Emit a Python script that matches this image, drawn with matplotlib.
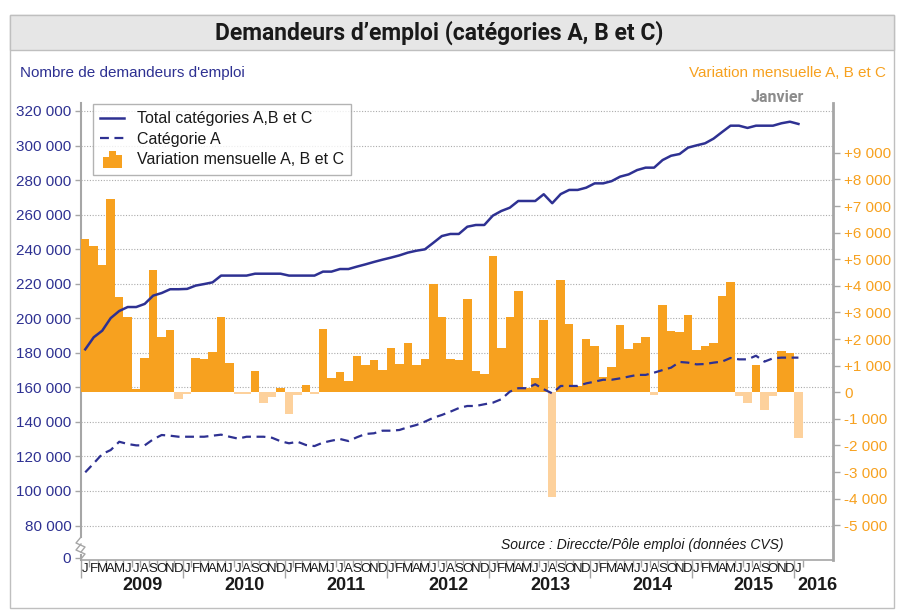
import matplotlib
matplotlib.use('Agg')
import matplotlib.pyplot as plt
import matplotlib.transforms as mtransforms
from matplotlib.patches import Rectangle
from matplotlib.lines import Line2D
from matplotlib.legend_handler import HandlerBase
import numpy as np

plt.rcParams['font.family'] = ['Liberation Sans', 'DejaVu Sans']

# données mensuelles, janvier 2009 -> janvier 2016
month_letters = list('JFMAMJJASOND') * 7 + ['J']
years = ['2009', '2010', '2011', '2012', '2013', '2014', '2015', '2016']

total_abc = [182000, 189000, 192800, 200100, 204200, 206500, 206500, 208300, 213100, 214600,
             216800, 216800, 217000, 218900, 219800, 220800, 224700, 224700, 224700, 224700,
             225800, 225800, 225800, 225800, 224700, 224700, 224700, 224700, 227000, 227000,
             228500, 228500, 229900, 231200, 232600, 233900, 235100, 236400, 238000, 239100,
             239900, 243700, 247600, 248800, 248800, 253000, 254000, 254000, 259400, 262100,
             264000, 267900, 267900, 267900, 271800, 266600, 271900, 274300, 274300, 275600,
             278100, 278100, 279400, 282000, 283300, 285800, 287200, 287200, 291600, 294100,
             295100, 298800, 300100, 301300, 304000, 307800, 311500, 311500, 310200, 311500,
             311500, 311500, 312900, 313800, 312500]

cat_a = [110800, 116000, 121400, 123700, 128500, 127200, 126400, 126400, 129900, 132400,
         132000, 131400, 131400, 131400, 131400, 132000, 132600, 131400, 130300, 131400,
         131400, 131400, 130800, 128800, 127600, 128500, 126600, 126000, 128000, 129100,
         130100, 128900, 131100, 133000, 133400, 134900, 134900, 135300, 136900, 138200,
         140100, 142400, 144000, 145900, 148000, 149200, 149200, 150200, 151100, 153100,
         157500, 159500, 159500, 161800, 158900, 156500, 160800, 160800, 160800, 162300,
         163300, 164400, 164400, 165200, 166200, 167200, 167200, 168500, 170000, 171400,
         174700, 174300, 173300, 173500, 174300, 174900, 177000, 176200, 176200, 178300,
         174900, 176800, 177200, 177200, 177200]

variation = [5750, 5500, 4800, 7250, 3580, 2820, 140, 1290, 4590, 2090,
             2340, -240, -60, 1290, 1250, 1520, 2820, 1100, -60, -60,
             800, -390, -160, 180, -810, -100, 280, -60, 2380, 550,
             760, 430, 1370, 1030, 1220, 840, 1670, 1070, 1850, 1030,
             1250, 4070, 2830, 1250, 1220, 3500, 800, 690, 5120, 1670,
             2830, 3810, 150, 540, 2720, -3920, 4220, 2570, 250, 2000,
             1740, 580, 950, 2530, 1630, 1850, 2080, -100, 3280, 2310,
             2270, 2910, 1590, 1740, 1850, 3620, 4150, -130, -390, 1030,
             -660, -130, 1550, 1480, -1720]

left_ticks = [80000, 100000, 120000, 140000, 160000, 180000, 200000, 220000,
              240000, 260000, 280000, 300000, 320000]
right_ticks = [-5000, -4000, -3000, -2000, -1000, 0, 1000, 2000, 3000, 4000,
               5000, 6000, 7000, 8000, 9000]

BLUE = '#2E3192'
ORANGE = '#F7A11F'
LIGHT = '#FDD19C'
GREY = '#A6A6A6'

W, H = 904, 612
fig = plt.figure(figsize=(W / 100, H / 100), dpi=100)

def fx(px):
    return px / W

def fy(py):
    return 1 - py / H

# cadre et bandeau de titre
fig.add_artist(Rectangle((fx(10), fy(608)), fx(884), (608 - 15) / H, transform=fig.transFigure,
                         facecolor='none', edgecolor='#BFBFBF', lw=1))
fig.add_artist(Rectangle((fx(10), fy(50)), fx(884), 35 / H, transform=fig.transFigure,
                         facecolor='#E6E6E6', edgecolor='#BFBFBF', lw=1))
fig.text(fx(439), fy(33), 'Demandeurs d’emploi (catégories A, B et C)', ha='center', va='center',
         fontsize=16.5, fontweight='bold', family=['Roboto', 'DejaVu Sans'], color='#1A1A1A')
fig.text(fx(20), fy(73), "Nombre de demandeurs d'emploi", ha='left', va='center',
         fontsize=11, color=BLUE)
fig.text(fx(886), fy(73), 'Variation mensuelle A, B et C', ha='right', va='center',
         fontsize=11, color=ORANGE)
fig.text(fx(777), fy(98), 'Janvier', ha='center', va='center', fontsize=11.5,
         fontweight='bold', family=['Roboto', 'DejaVu Sans'], color='#8C8C8C')

ax = fig.add_axes([fx(81), fy(560), fx(752), 457 / H])
axb = ax.twinx()
axl = ax.twinx()

n = len(total_abc)
x = np.arange(n)
xlim = (-0.5, 88.07)
ylim_left = (60029, 324632)
ylim_right = (-6305, 10876)

# barres (échelle de droite)
cols = [ORANGE if v >= 0 else LIGHT for v in variation]
axb.bar(x, variation, width=1.0, color=cols, linewidth=0)
axb.set_ylim(*ylim_right)
axb.set_yticks(right_ticks)
axb.set_yticklabels([('+' if v > 0 else '') + f'{v:,}'.replace(',', ' ') for v in right_ticks],
                    color=ORANGE, fontsize=11)
axb.tick_params(axis='y', length=5, color=GREY, width=1, pad=3)

# courbes (échelle de gauche)
axl.plot(x, total_abc, color=BLUE, lw=1.8, solid_joinstyle='round')
axl.plot(x, cat_a, color=BLUE, lw=1.6, dashes=(4, 2.5))
axl.set_ylim(*ylim_left)
axl.set_yticks([])

ax.set_ylim(*ylim_left)
ax.set_yticks([61200] + left_ticks)
ax.set_yticklabels(['0'] + [f'{v:,}'.replace(',', ' ') for v in left_ticks], color=BLUE, fontsize=11)
ax.tick_params(axis='y', length=4, color=GREY, width=1, pad=3)
for v in left_ticks:
    ax.axhline(v, color='#ABABAB', lw=0.8, linestyle=(0, (1, 1.5)), zorder=0)

for a in (ax, axb, axl):
    a.set_xlim(*xlim)
    for s in a.spines.values():
        s.set_visible(False)
    a.patch.set_visible(False)
ax.patch.set_visible(True)

ax.spines['bottom'].set_visible(True)
ax.spines['bottom'].set_color(GREY)
ax.spines['bottom'].set_linewidth(1.2)
axb.spines['right'].set_visible(True)
axb.spines['right'].set_color(GREY)
axb.spines['right'].set_linewidth(2)
ax.spines['left'].set_visible(True)
ax.spines['left'].set_color(GREY)
ax.spines['left'].set_linewidth(1.5)
ax.spines['left'].set_bounds(73300, ylim_left[1])

# cassure de l'axe de gauche
px_x = 1 / 752
px_y = 1 / 457
ax.plot([0, 0], [0, 5 * px_y], transform=ax.transAxes, color=GREY, lw=1.5, clip_on=False)
for dy in (0, 7):
    ax.plot([0, -5 * px_x, 4 * px_x, 0],
            [(23 - dy) * px_y, (17 - dy) * px_y, (13 - dy) * px_y, (8 - dy) * px_y],
            transform=ax.transAxes, color=GREY, lw=1, clip_on=False)

# axe des mois
ax.set_xticks([-0.5 + 12 * k for k in range(8)])
ax.set_xticks([-0.5 + i for i in range(n + 1)], minor=True)
ax.set_xticklabels([])
ax.tick_params(axis='x', which='major', length=13, color=GREY, width=1)
ax.tick_params(axis='x', which='minor', length=5, color=GREY, width=1)

trans = mtransforms.blended_transform_factory(ax.transData, ax.transAxes)
for i, m in enumerate(month_letters):
    ax.text(i, -9.5 * px_y, m, transform=trans, ha='center', va='center', fontsize=9.5,
            color='#1A1A1A')
for k, yr in enumerate(years):
    xpos = 12 * k + 6.75 if k < 7 else 86.2
    ax.text(xpos, -26 * px_y, yr, transform=trans, ha='center', va='center', fontsize=13,
            fontweight='bold', color='#1A1A1A')

ax.text((642 - 81) * px_x, 15 * px_y, 'Source : Direccte/Pôle emploi (données CVS)',
        transform=ax.transAxes, ha='center', va='center', fontsize=10, style='italic',
        color='#1A1A1A')


class HandlerSteps(HandlerBase):
    def create_artists(self, legend, orig_handle, xdescent, ydescent, width, height,
                       fontsize, trans):
        x0 = -xdescent + 0.12 * width
        w = 0.8 * width / 3
        y0 = -ydescent - 0.3 * height
        hh = 1.5 * height
        arts = []
        for j, f in enumerate((0.64, 1.0, 0.78)):
            arts.append(Rectangle((x0 + j * w, y0), w, hh * f, facecolor=ORANGE,
                                  edgecolor='none', transform=trans))
        return arts


handles = [Line2D([], [], color=BLUE, lw=1.8),
           Line2D([], [], color=BLUE, lw=1.6, dashes=(4, 2.5)),
           Rectangle((0, 0), 1, 1, color=ORANGE)]
labels = ['Total catégories A,B et C', 'Catégorie A', 'Variation mensuelle A, B et C']
leg = axl.legend(handles, labels, loc='upper left',
                 bbox_to_anchor=((93 - 81) * px_x, (560 - 104) * px_y),
                 borderaxespad=0, fontsize=11.5, frameon=True, fancybox=False,
                 handlelength=1.5, handletextpad=0.8, labelspacing=0.35, borderpad=0.45,
                 handler_map={Rectangle: HandlerSteps()})
leg.get_frame().set_edgecolor('#A0A0A0')
leg.get_frame().set_linewidth(1)
for t in leg.get_texts():
    t.set_color('#1A1A1A')

fig.savefig('out.png', dpi=100)
